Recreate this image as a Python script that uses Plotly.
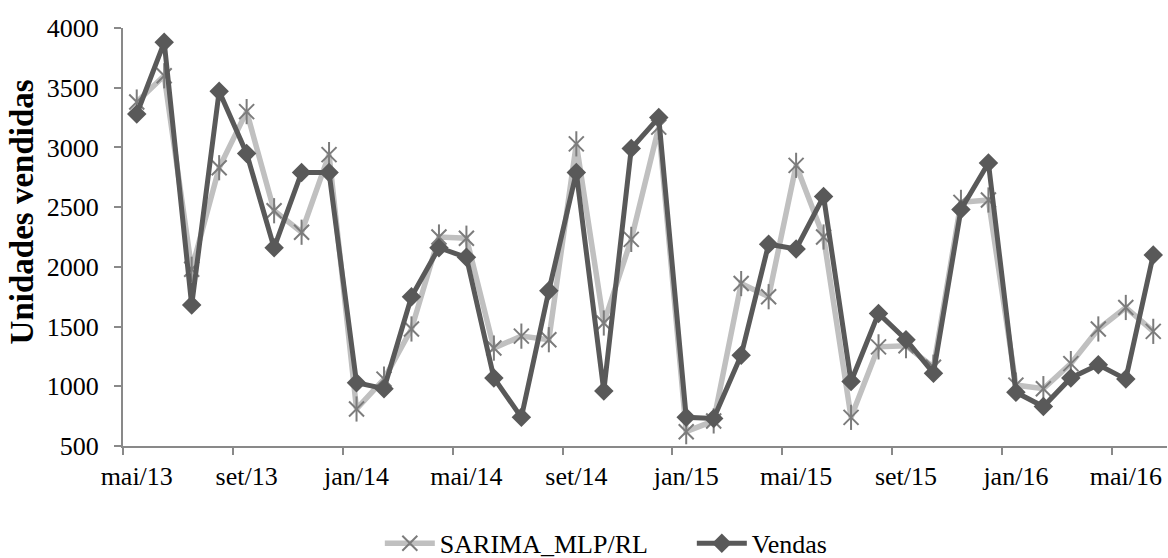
import plotly.graph_objects as go

# Monthly series, May 2013 through June 2016
months = [
    "mai/13", "jun/13", "jul/13", "ago/13", "set/13", "out/13", "nov/13", "dez/13",
    "jan/14", "fev/14", "mar/14", "abr/14", "mai/14", "jun/14", "jul/14", "ago/14",
    "set/14", "out/14", "nov/14", "dez/14", "jan/15", "fev/15", "mar/15", "abr/15",
    "mai/15", "jun/15", "jul/15", "ago/15", "set/15", "out/15", "nov/15", "dez/15",
    "jan/16", "fev/16", "mar/16", "abr/16", "mai/16", "jun/16",
]

sarima_mlp_rl = [
    3380, 3600, 1980, 2830, 3300, 2470, 2290, 2940,
    810, 1060, 1480, 2250, 2240, 1320, 1420, 1390,
    3030, 1530, 2230, 3170, 620, 710, 1860, 1750,
    2850, 2250, 740, 1330, 1340, 1160, 2540, 2560,
    1010, 980, 1190, 1480, 1660, 1460,
]

vendas = [
    3280, 3880, 1680, 3470, 2950, 2160, 2790, 2790,
    1030, 980, 1750, 2160, 2080, 1070, 740, 1800,
    2790, 960, 2990, 3250, 740, 730, 1260, 2190,
    2150, 2590, 1040, 1610, 1390, 1110, 2480, 2870,
    950, 830, 1070, 1180, 1060, 2100,
]

# Labelled months (every fourth month)
tick_labels = ["mai/13", "set/13", "jan/14", "mai/14", "set/14",
               "jan/15", "mai/15", "set/15", "jan/16", "mai/16"]

x = list(range(len(months)))
label_pos = [months.index(m) for m in tick_labels]
boundaries = [p - 0.5 for p in label_pos]

FONT = "Liberation Serif, Times New Roman, serif"
AXIS_GRAY = "#898989"

fig = go.Figure()

fig.add_trace(go.Scatter(
    x=x, y=sarima_mlp_rl, name="SARIMA_MLP/RL", mode="lines+markers",
    line=dict(color="#c0c0c0", width=5.5),
    marker=dict(symbol="x-thin-open", size=15, color="#7c7c7c",
                line=dict(color="#7c7c7c", width=2)),
    legendgroup="s",
))
# vertical stroke completing the asterisk marker
fig.add_trace(go.Scatter(
    x=x, y=sarima_mlp_rl, mode="markers", showlegend=False, legendgroup="s",
    marker=dict(symbol="line-ns-open", size=18, color="#7c7c7c",
                line=dict(color="#7c7c7c", width=2)),
    hoverinfo="skip",
))
fig.add_trace(go.Scatter(
    x=x, y=vendas, name="Vendas", mode="lines+markers",
    line=dict(color="#595959", width=5),
    marker=dict(symbol="diamond", size=15, color="#595959"),
))

fig.update_layout(
    width=1168, height=558,
    margin=dict(l=123, r=1, t=28, b=112, autoexpand=False),
    paper_bgcolor="white", plot_bgcolor="white",
    font=dict(family=FONT, size=26, color="#000000"),
    showlegend=True,
    legend=dict(orientation="h", x=0.246, xanchor="left", y=-0.233,
                yanchor="middle", itemwidth=50, entrywidth=247,
                font=dict(family=FONT, size=26, color="#000000"),
                bgcolor="rgba(0,0,0,0)"),
)

fig.update_xaxes(
    range=[-0.5, len(months) - 0.5],
    tickmode="array", tickvals=label_pos, ticktext=tick_labels,
    ticks="", showgrid=False, zeroline=False,
    showline=True, linecolor=AXIS_GRAY, linewidth=2,
    tickfont=dict(family=FONT, size=26),
    ticklabelstandoff=6,
    automargin=False,
    minor=dict(tickmode="array", tickvals=boundaries, ticks="outside",
               ticklen=7, tickwidth=2, tickcolor=AXIS_GRAY, showgrid=False),
)

fig.update_yaxes(
    range=[500, 4000], dtick=500, tick0=500,
    showgrid=False, zeroline=False,
    showline=True, linecolor=AXIS_GRAY, linewidth=2,
    ticks="outside", ticklen=7, tickwidth=2, tickcolor=AXIS_GRAY,
    ticklabelstandoff=10,
    tickfont=dict(family=FONT, size=26),
    automargin=False,
)

# Y-axis title
fig.add_annotation(
    text="<b>Unidades vendidas</b>", textangle=-90,
    xref="paper", yref="paper", x=-0.0967, y=0.559,
    xanchor="center", yanchor="middle", showarrow=False,
    font=dict(family=FONT, size=33, color="#000000"),
)

fig.write_html("out.html")
